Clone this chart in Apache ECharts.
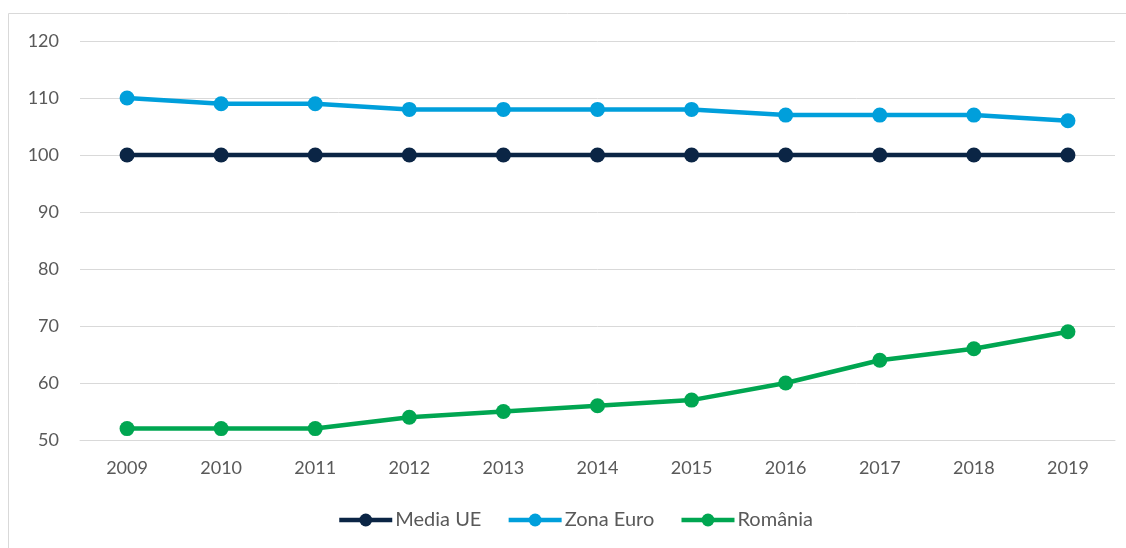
<!DOCTYPE html>
<html>
<head>
<meta charset="utf-8">
<style>
  html, body { margin: 0; padding: 0; background: #fff; }
  #chart { width: 1126px; height: 548px; }
</style>
<script src="https://cdn.jsdelivr.net/npm/echarts@6/dist/echarts.min.js"></script>
</head>
<body>
<div id="chart"></div>
<script>
const years = ['2009', '2010', '2011', '2012', '2013', '2014', '2015', '2016', '2017', '2018', '2019']
const mediaUE = [100, 100, 100, 100, 100, 100, 100, 100, 100, 100, 100]
const zonaEuro = [110, 109, 109, 108, 108, 108, 108, 107, 107, 107, 106]
const romania = [52, 52, 52, 54, 55, 56, 57, 60, 64, 66, 69]

const textColor = '#595959'
const fontFamily = 'Lato, "Open Sans", sans-serif'

function lineSeries(name, data, color) {
  return {
    name: name,
    type: 'line',
    data: data,
    symbol: 'circle',
    symbolSize: 15,
    lineStyle: { width: 4.5, color: color },
    itemStyle: { color: color },
    emphasis: { disabled: true }
  }
}

const chart = echarts.init(document.getElementById('chart'))
chart.setOption({
  animation: false,
  textStyle: { fontFamily: fontFamily },
  graphic: [
    {
      type: 'rect',
      shape: { x: 8.5, y: 13.5, width: 1300, height: 700 },
      style: { fill: 'none', stroke: '#d9d9d9', lineWidth: 1 },
      silent: true
    }
  ],
  grid: { left: 80, right: 11, top: 41, bottom: 108 },
  legend: {
    left: 337,
    top: 510,
    padding: 0,
    itemWidth: 53,
    itemHeight: 16,
    itemGap: 25,
    lineStyle: { width: 4.5 },
    textStyle: { color: textColor, fontSize: 20, fontFamily: fontFamily, padding: [0, 0, 0, -2] },
    data: ['Media UE', 'Zona Euro', 'România']
  },
  xAxis: {
    type: 'category',
    data: years,
    boundaryGap: true,
    axisLine: { lineStyle: { color: '#d9d9d9', width: 1 } },
    axisTick: { show: false },
    axisLabel: { color: textColor, fontSize: 18, margin: 19 }
  },
  yAxis: {
    type: 'value',
    min: 50,
    max: 120,
    interval: 10,
    axisLine: { show: false },
    axisTick: { show: false },
    splitLine: { lineStyle: { color: '#d9d9d9', width: 1 } },
    axisLabel: { color: textColor, fontSize: 18, margin: 21 }
  },
  series: [
    lineSeries('Media UE', mediaUE, '#0b2545'),
    lineSeries('Zona Euro', zonaEuro, '#009fdb'),
    lineSeries('România', romania, '#00a651')
  ]
})
</script>
</body>
</html>
